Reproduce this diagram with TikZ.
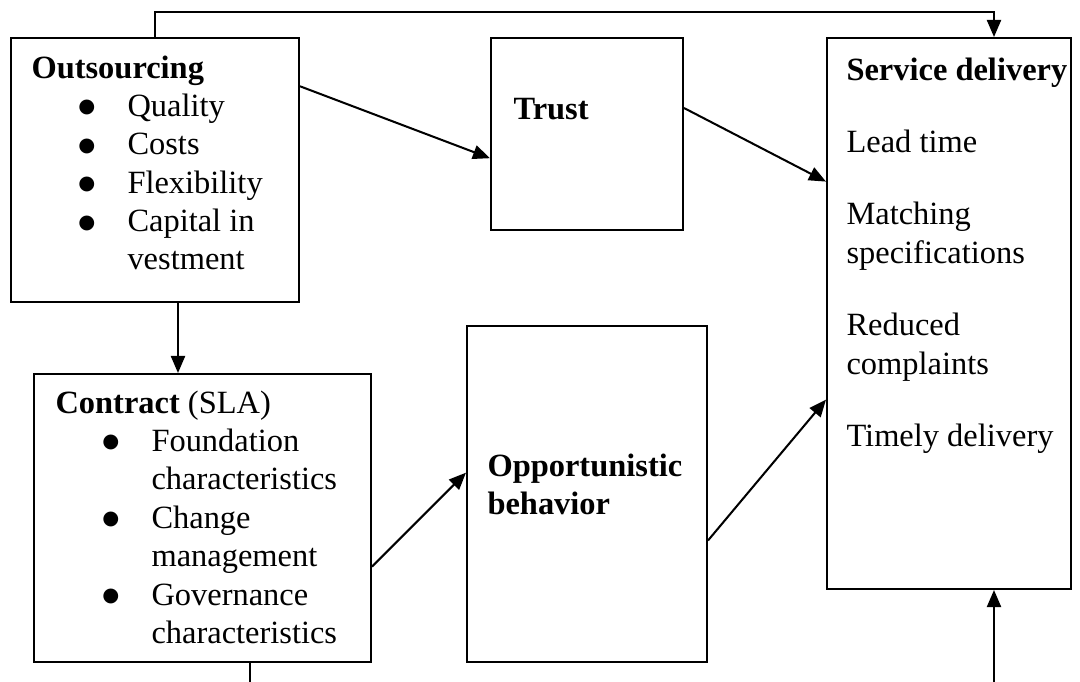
\documentclass[tikz,border=0pt]{standalone}
\usepackage{fontspec}
\setmainfont{Liberation Serif}
\newfontfamily\bulfont{DejaVu Sans}
\usepackage{tikz}
\usetikzlibrary{arrows.meta,positioning}

\newcommand{\itembul}[1]{\hspace*{17.3pt}\makebox[18.2pt][l]{\raisebox{1.3pt}{\bulfont\fontsize{7.2}{7.2}\selectfont ●}}#1}
\newcommand{\itemcont}[1]{\hspace*{35.5pt}#1}

\begin{document}
\begin{tikzpicture}[x=0.013cm, y=-0.013cm,
		blk/.style = {draw, rectangle, anchor=north west, inner sep=0pt, line width=0.75pt},
		txt/.style = {anchor=north west, inner sep=0pt, align=left, font=\fontsize{12}{14.2}\selectfont, execute at begin node=\strut},
		conn/.style = {line width=0.75pt},
		>={Triangle[length=6.3pt,width=5.2pt]}]
		
		\useasboundingbox (0,0) rectangle (1080,682);
		
		% boxes
		\node[blk, minimum width=3.744cm, minimum height=3.432cm] (out) at (10,37) {};
		\node[blk, minimum width=2.496cm, minimum height=2.496cm] (trust) at (490,37) {};
		\node[blk, minimum width=3.172cm, minimum height=7.163cm] (serv) at (826,37) {};
		\node[blk, minimum width=4.381cm, minimum height=3.744cm] (contr) at (33,373) {};
		\node[blk, minimum width=3.12cm, minimum height=4.368cm] (opp) at (466,325) {};
		
		% texts
		\node[txt] (outtxt) at (31,55) {\textbf{Outsourcing}\\
			\itembul{Quality}\\
			\itembul{Costs}\\
			\itembul{Flexibility}\\
			\itembul{Capital in}\\
			\itemcont{vestment}};
		\node[txt] (trusttxt) at (513,92) {\textbf{Trust}};
		\node[txt] (servtxt) at (846,57) {\textbf{Service delivery}\\[12.6pt]
			Lead time\\[12.6pt]
			Matching\\
			specifications\\[12.6pt]
			Reduced\\
			complaints\\[12.6pt]
			Timely delivery};
		\node[txt] (contrtxt) at (55,390) {\textbf{Contract} (SLA)\\
			\itembul{Foundation}\\
			\itemcont{characteristics}\\
			\itembul{Change}\\
			\itemcont{management}\\
			\itembul{Governance}\\
			\itemcont{characteristics}};
		\node[txt] (opptxt) at (487,453) {\textbf{Opportunistic}\\
			\textbf{behavior}};
		
		% connectors
		\coordinate (top) at (994,12);
		\coordinate (oc) at (178,0);
		\coordinate (cb) at (250,682);
		\coordinate (sb) at (994,682);
		
		\draw[conn, ->] (out.north) |- (top) -- (serv.north -| top);
		\draw[conn, ->] (out.30) -- (trust.194);
		\draw[conn, ->] (trust.15) -- (serv.133);
		\draw[conn, ->] (out.south -| oc) -- (contr.north -| oc);
		\draw[conn, ->] (contr.-16) -- (opp.170);
		\draw[conn, ->] (opp.-21) -- (serv.215);
		\draw[conn] (contr.south -| cb) -- (cb);
		\draw[conn, ->] (sb) -- (serv.south -| sb);
		
	\end{tikzpicture}
\end{document}
